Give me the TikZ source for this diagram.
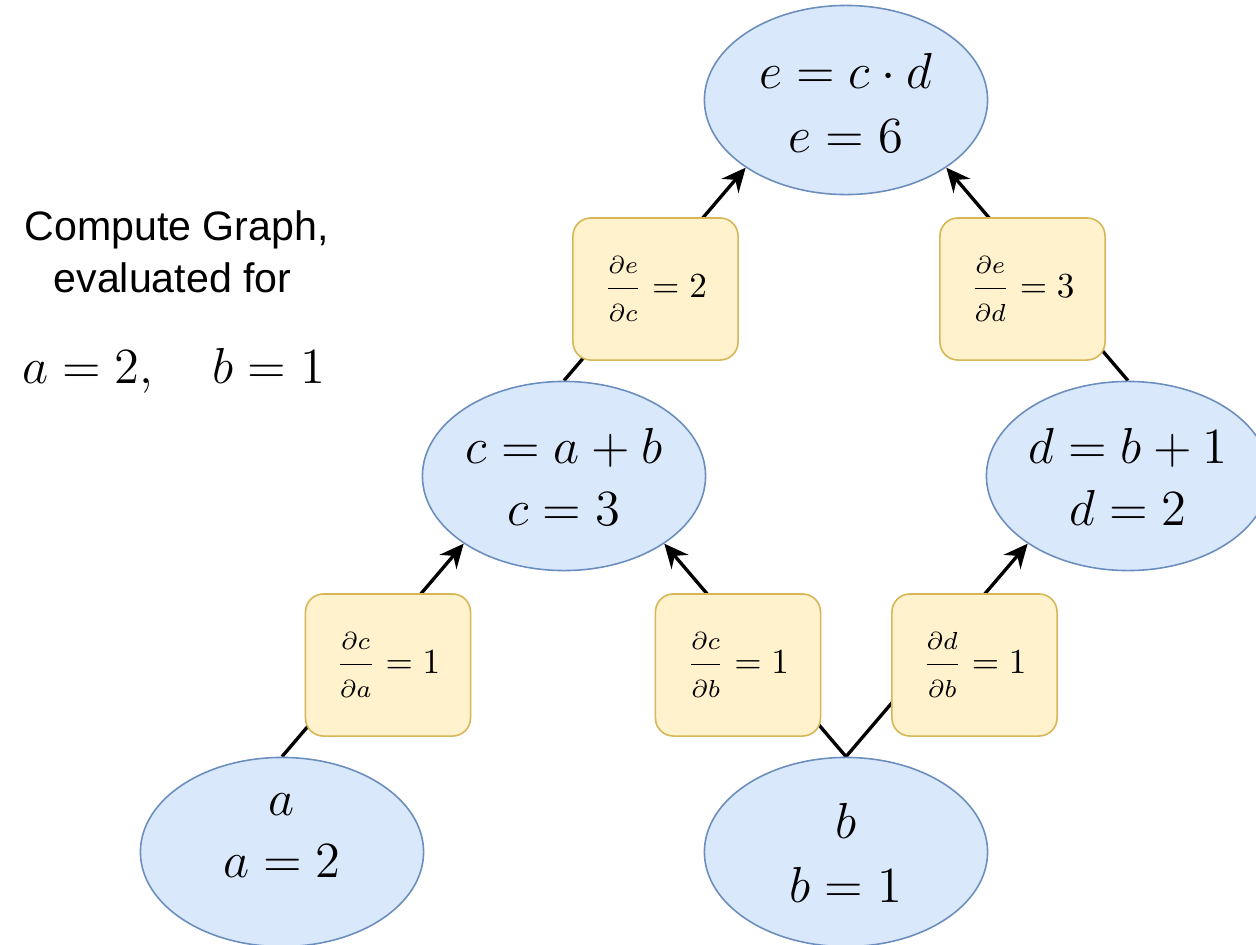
\documentclass[tikz,border=0pt]{standalone}
\usepackage{amsmath}
\usepackage{fontspec}
\newfontfamily\notefont{Liberation Sans}
\usetikzlibrary{arrows.meta,backgrounds,shapes.geometric}
\definecolor{varfill}{HTML}{DAE8FC}
\definecolor{vardraw}{HTML}{6C8EBF}
\definecolor{gradfill}{HTML}{FFF2CC}
\definecolor{graddraw}{HTML}{D6B656}
% partial derivative with small letters and roomy display spacing
\newcommand{\pd}[2]{\dfrac{\scriptstyle\partial #1}{\scriptstyle\partial #2}}
\begin{document}
\begin{tikzpicture}[x=0.01cm,y=-0.01cm,
  var/.style={ellipse, draw=vardraw, fill=varfill, line width=0.45pt,
    minimum width=2.83cm, minimum height=1.89cm, inner sep=0pt},
  vartext/.style={anchor=base, inner sep=0pt, font=\fontsize{14.4}{17}\selectfont},
  grad/.style={rectangle, rounded corners=0.18cm, draw=graddraw, fill=gradfill,
    line width=0.45pt, minimum width=1.65cm, minimum height=1.42cm, inner sep=0pt,
    font=\fontsize{10}{12}\selectfont},
  flow/.style={line width=0.95pt, -{Stealth[length=0.24cm,width=0.22cm,inset=0.08cm]}},
  note/.style={anchor=base, inner sep=0pt, font=\notefont\fontsize{11.7}{14}\selectfont}]
\useasboundingbox (0,0) rectangle (1256,945);
\clip (0,0) rectangle (1256,945);

% caption
\node[note] (cap1) at (176.5,240) {Compute Graph,};
\node[note] (cap2) at (172.5,292) {evaluated for};
\node[vartext] (cap3) at (173.5,383) {$a = 2, \quad b = 1$};

% variables
\node[var] (e) at (846,100) {};
\node[var] (c) at (564,476) {};
\node[var] (d) at (1128,476) {};
\node[var] (a) at (282,852) {};
\node[var] (b) at (846,852) {};

\node[vartext] (e1) at (846,88)  {$e = c\cdot d$};
\node[vartext] (e2) at (846,152) {$e = 6$};
\node[vartext] (c1) at (564,463) {$c = a + b$};
\node[vartext] (c2) at (564,525) {$c = 3$};
\node[vartext] (d1) at (1128,463) {$d = b + 1$};
\node[vartext] (d2) at (1128,525) {$d = 2$};
\node[vartext] (a1) at (282,815) {$a$};
\node[vartext] (a2) at (282,877) {$a = 2$};
\node[vartext] (b1) at (846,838) {$b$};
\node[vartext] (b2) at (846,902) {$b = 1$};

% local derivatives
\node[grad] (gec) at (655.5,289) {$\pd{e}{c} = 2$};
\node[grad] (ged) at (1022.5,289) {$\pd{e}{d} = 3$};
\node[grad] (gca) at (388,665) {$\pd{c}{a} = 1$};
\node[grad] (gcb) at (738,665) {$\pd{c}{b} = 1$};
\node[grad] (gdb) at (974.5,665) {$\pd{d}{b} = 1$};

% white page and forward edges, behind everything else
\begin{pgfonlayer}{background}
\fill[white] (0,0) rectangle (1256,945);
\draw[flow] (a.north) -- (c.214);
\draw[flow] (b.north) -- (c.326);
\draw[flow] (b.north) -- (d.214);
\draw[flow] (c.north) -- (e.214);
\draw[flow] (d.north) -- (e.326);
\end{pgfonlayer}
\end{tikzpicture}
\end{document}
